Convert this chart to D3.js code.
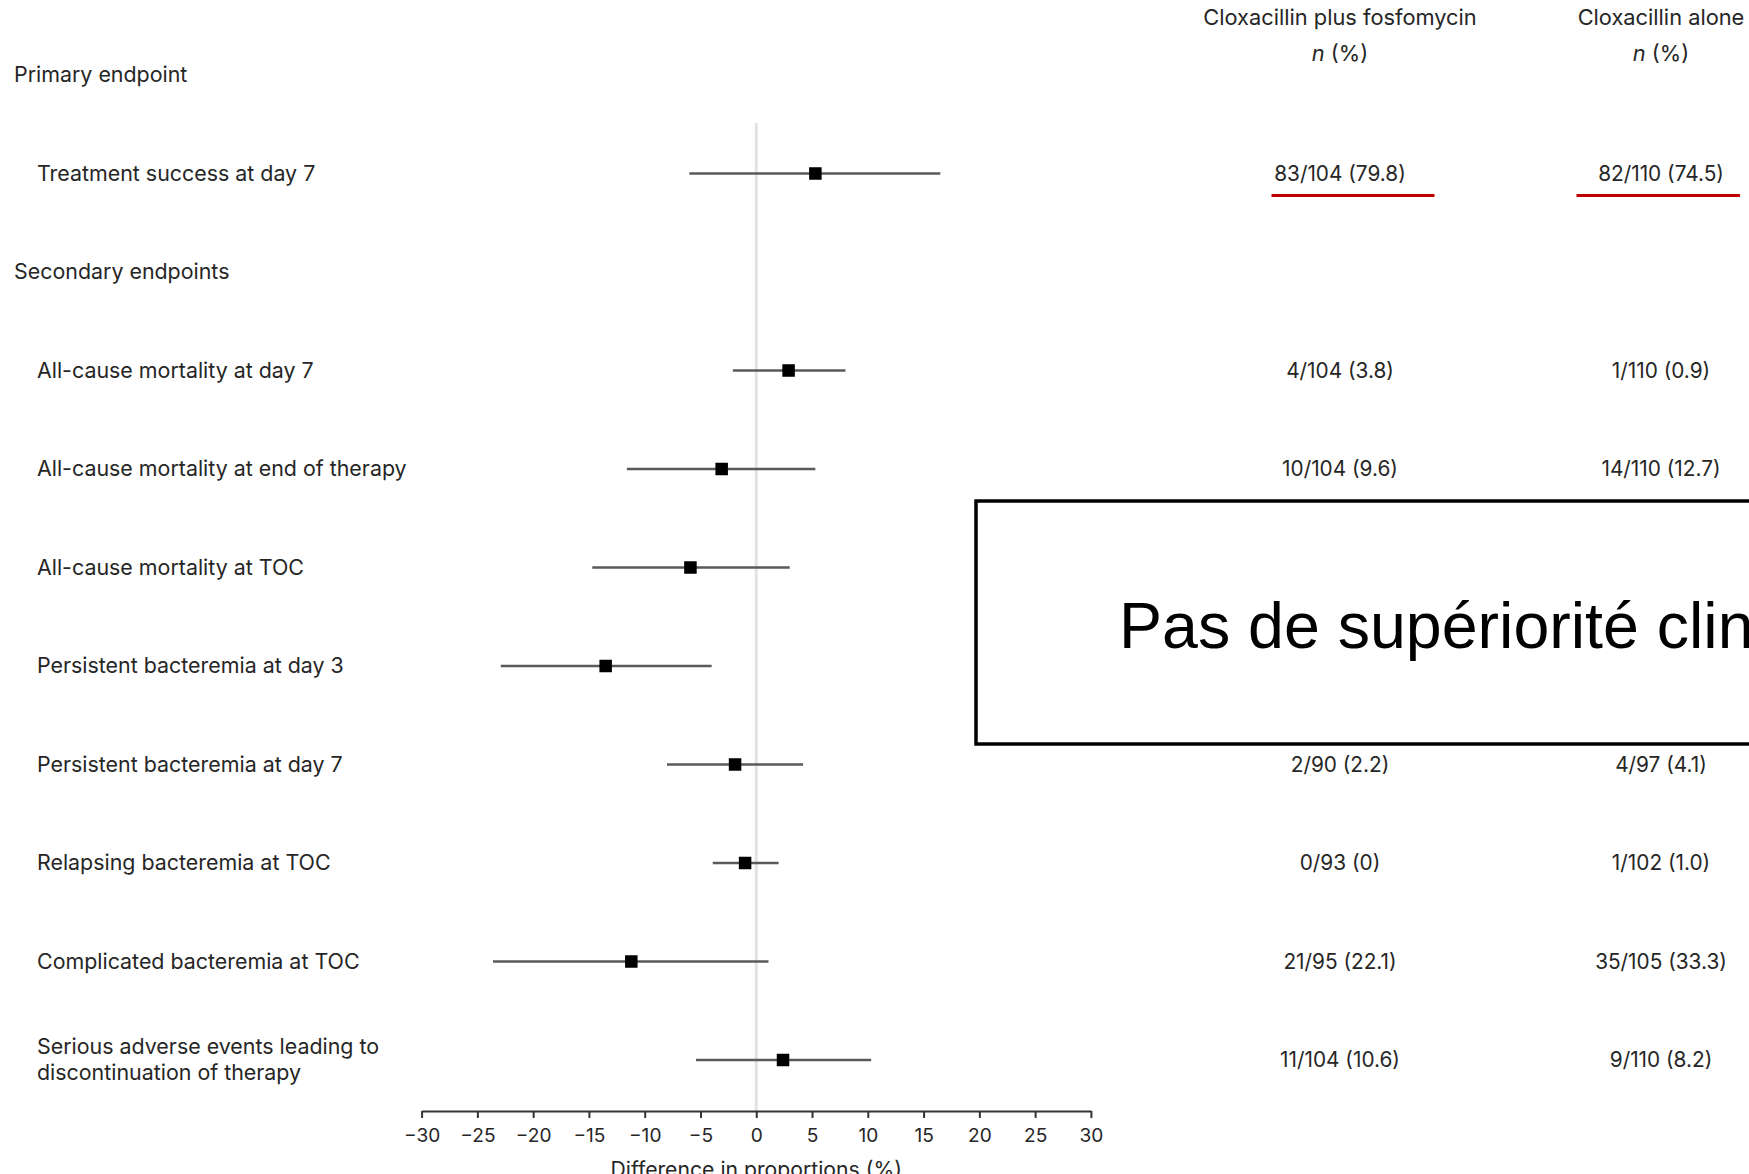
<!DOCTYPE html>
<html>
<head>
<meta charset="utf-8">
<script src="https://cdn.jsdelivr.net/npm/d3@7/dist/d3.min.js"></script>
<style>
  html, body { margin: 0; padding: 0; background: #fff; }
  svg { display: block; }
</style>
</head>
<body>
<svg id="chart" width="1749" height="1174"></svg>
<script>
// Forest plot: difference in proportions (combination minus monotherapy), with 95% CI
const groupHeaders = ["Primary endpoint", "Secondary endpoints"];
const endpoints = [
  "Treatment success at day 7",
  "All-cause mortality at day 7",
  "All-cause mortality at end of therapy",
  "All-cause mortality at TOC",
  "Persistent bacteremia at day 3",
  "Persistent bacteremia at day 7",
  "Relapsing bacteremia at TOC",
  "Complicated bacteremia at TOC",
  "Serious adverse events leading to|discontinuation of therapy"
];
// which group each endpoint belongs to
const endpointGroup = [0, 1, 1, 1, 1, 1, 1, 1, 1];
const diffs  = [5.3, 2.9, -3.1, -5.9, -13.5, -1.9, -1.0, -11.2, 2.4];
const ciLow  = [-6.0, -2.1, -11.6, -14.7, -22.9, -8.0, -3.9, -23.6, -5.4];
const ciHigh = [16.5, 8.0, 5.3, 3.0, -4.0, 4.2, 2.0, 1.1, 10.3];
const comboCounts = ["83/104 (79.8)", "4/104 (3.8)", "10/104 (9.6)", null, null,
                     "2/90 (2.2)", "0/93 (0)", "21/95 (22.1)", "11/104 (10.6)"];
const aloneCounts = ["82/110 (74.5)", "1/110 (0.9)", "14/110 (12.7)", null, null,
                     "4/97 (4.1)", "1/102 (1.0)", "35/105 (33.3)", "9/110 (8.2)"];
const columnTitles = ["Cloxacillin plus fosfomycin", "Cloxacillin alone"];
const xTicks = [-30, -25, -20, -15, -10, -5, 0, 5, 10, 15, 20, 25, 30];
const xTitle = "Difference in proportions (%)";
const calloutText = "Pas de supériorité clinique";

const W = 1749, H = 1174;
const svg = d3.select("#chart");
svg.append("rect").attr("width", W).attr("height", H).attr("fill", "#fff");

const FONT = "Inter, Roboto, 'Noto Sans', sans-serif";
const TXT = "#262626";

// build the row sequence: group header followed by its endpoints
const rows = [];
groupHeaders.forEach((g, gi) => {
  rows.push({ type: "header", label: g, key: "h" + gi });
  endpoints.forEach((e, i) => {
    if (endpointGroup[i] === gi) rows.push({ type: "item", label: e, idx: i, key: "e" + i });
  });
});

const y = d3.scalePoint()
  .domain(rows.map(r => r.key))
  .range([75, 1060]);

const x = d3.scaleLinear().domain([-30, 30]).range([421.6, 1090.9]);
const colX = [1340, 1661];
const axisY = 1111;

// zero reference line
svg.append("line")
  .attr("x1", x(0)).attr("x2", x(0))
  .attr("y1", 123).attr("y2", axisY)
  .attr("stroke", "#e2e2e4").attr("stroke-width", 3);

// row labels
const lab = svg.append("g").attr("font-family", FONT).attr("font-size", 21.4).attr("fill", TXT);
rows.forEach(r => {
  const lines = r.label.split("|");
  const lx = r.type === "header" ? 14 : 37;
  const t = lab.append("text").attr("y", y(r.key) - (lines.length - 1) * 13);
  lines.forEach((ln, k) => {
    t.append("tspan").attr("x", lx).attr("dy", k === 0 ? "0.35em" : 26).text(ln);
  });
});

// confidence intervals and point estimates
const items = rows.filter(r => r.type === "item");
const marks = svg.append("g");
marks.selectAll("line.ci").data(items).join("line")
  .attr("class", "ci")
  .attr("x1", d => x(ciLow[d.idx])).attr("x2", d => x(ciHigh[d.idx]))
  .attr("y1", d => y(d.key)).attr("y2", d => y(d.key))
  .attr("stroke", "#5a5a5a").attr("stroke-width", 2.6);
const S = 12.5;
marks.selectAll("rect.pt").data(items).join("rect")
  .attr("class", "pt")
  .attr("x", d => x(diffs[d.idx]) - S / 2).attr("y", d => y(d.key) - S / 2)
  .attr("width", S).attr("height", S)
  .attr("fill", "#000");

// x axis
const axis = d3.axisBottom(x).tickValues(xTicks).tickSize(7).tickSizeOuter(0).tickPadding(10);
const ax = svg.append("g").attr("transform", `translate(0,${axisY})`).call(axis);
ax.select(".domain").attr("stroke", "#333").attr("stroke-width", 2.2);
ax.selectAll(".tick line").attr("stroke", "#333").attr("stroke-width", 2);
ax.selectAll(".tick text").attr("font-family", FONT).attr("font-size", 19.1).attr("fill", TXT);

svg.append("text")
  .attr("x", x(0)).attr("y", 1177)
  .attr("text-anchor", "middle")
  .attr("font-family", FONT).attr("font-size", 21.2).attr("fill", TXT)
  .text(xTitle);

// column headers
const hdr = svg.append("g").attr("font-family", FONT).attr("font-size", 21.8).attr("fill", TXT)
  .attr("text-anchor", "middle");
columnTitles.forEach((c, i) => {
  hdr.append("text").attr("x", colX[i]).attr("y", 17).attr("dy", "0.35em").text(c);
  const t = hdr.append("text").attr("x", colX[i]).attr("y", 53).attr("dy", "0.35em");
  t.append("tspan").attr("font-style", "italic").text("n");
  t.append("tspan").text(" (%)");
});

// count columns
const cnt = svg.append("g").attr("font-family", FONT).attr("font-size", 20.8).attr("fill", TXT)
  .attr("text-anchor", "middle");
[comboCounts, aloneCounts].forEach((arr, ci) => {
  items.forEach(d => {
    if (arr[d.idx] == null) return;
    cnt.append("text").attr("x", colX[ci]).attr("y", y(d.key)).attr("dy", "0.35em").text(arr[d.idx]);
  });
});

// red emphasis under the primary endpoint counts
const primaryKey = items[0].key;
[[1271.5, 1434.5], [1576.5, 1740]].forEach(([a, b]) => {
  svg.append("line").attr("x1", a).attr("x2", b)
    .attr("y1", y(primaryKey) + 22).attr("y2", y(primaryKey) + 22)
    .attr("stroke", "#c00000").attr("stroke-width", 3.2);
});

// callout box
svg.append("rect")
  .attr("x", 976).attr("y", 501).attr("width", 800).attr("height", 243)
  .attr("fill", "#fff").attr("stroke", "#000").attr("stroke-width", 3.5);
svg.append("text")
  .attr("x", 1119).attr("y", 648)
  .attr("font-family", "'Liberation Sans', Arial, sans-serif")
  .attr("font-size", 64.5).attr("fill", "#000")
  .text(calloutText);
</script>
</body>
</html>
